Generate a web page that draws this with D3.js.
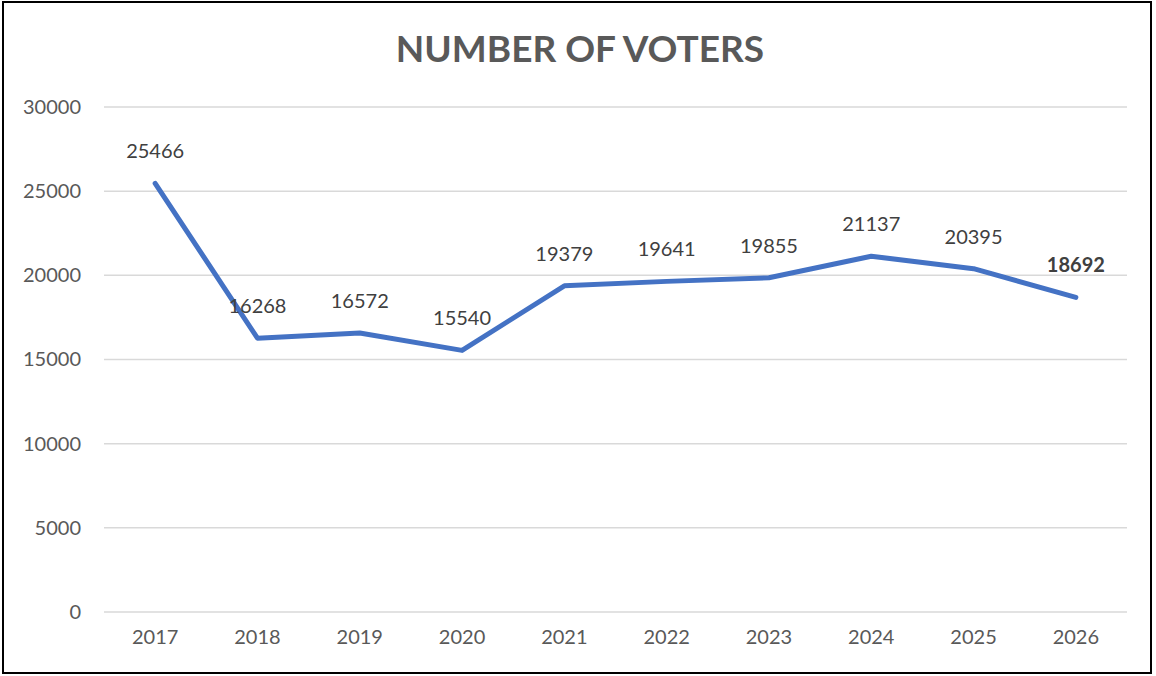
<!DOCTYPE html>
<html>
<head>
<meta charset="utf-8">
<script src="https://cdn.jsdelivr.net/npm/d3@7"></script>
<style>
  html, body { margin: 0; padding: 0; background: #fff; }
  svg { display: block; font-family: Lato, "Open Sans", sans-serif; }
</style>
</head>
<body>
<svg id="chart" width="1156" height="676"></svg>
<script>
// chart data
var years = ['2017', '2018', '2019', '2020', '2021', '2022', '2023', '2024', '2025', '2026'];
var voters = [25466, 16268, 16572, 15540, 19379, 19641, 19855, 21137, 20395, 18692];
var yTicks = [0, 5000, 10000, 15000, 20000, 25000, 30000];
var title = 'NUMBER OF VOTERS';

var width = 1156, height = 676;
var margin = { top: 107, right: 29, bottom: 64, left: 104 };
var innerW = width - margin.left - margin.right;
var innerH = height - margin.top - margin.bottom;

var svg = d3.select('#chart');

// outer border
svg.append('rect')
    .attr('x', 3).attr('y', 2)
    .attr('width', 1148).attr('height', 671)
    .attr('fill', '#fff')
    .attr('stroke', '#000')
    .attr('stroke-width', 2);

svg.append('text')
    .attr('x', 580).attr('y', 62)
    .attr('text-anchor', 'middle')
    .attr('font-size', 37)
    .attr('font-weight', 'bold')
    .attr('fill', '#595959')
    .text(title);

var g = svg.append('g')
    .attr('transform', 'translate(' + margin.left + ',' + margin.top + ')');

var x = d3.scaleBand().domain(years).range([0, innerW]);
var y = d3.scaleLinear().domain([0, 30000]).range([innerH, 0]);

// gridlines
g.append('g').selectAll('line')
    .data(yTicks)
    .enter().append('line')
    .attr('x1', 0).attr('x2', innerW)
    .attr('y1', function (d) { return y(d); })
    .attr('y2', function (d) { return y(d); })
    .attr('stroke', '#d9d9d9')
    .attr('stroke-width', 1.5);

var yAxis = g.append('g')
    .call(d3.axisLeft(y).tickValues(yTicks).tickSize(0).tickPadding(23).tickFormat(d3.format('d')));
yAxis.select('.domain').remove();
yAxis.selectAll('text')
    .attr('font-size', 20)
    .attr('fill', '#595959')
    .attr('font-family', 'Lato, sans-serif');

var xAxis = g.append('g')
    .attr('transform', 'translate(0,' + innerH + ')')
    .call(d3.axisBottom(x).tickSize(0).tickPadding(18));
xAxis.select('.domain').remove();
xAxis.selectAll('text')
    .attr('font-size', 20)
    .attr('fill', '#595959')
    .attr('font-family', 'Lato, sans-serif');

var cx = function (d, i) { return x(years[i]) + x.bandwidth() / 2; };

var line = d3.line()
    .x(cx)
    .y(function (d) { return y(d); });

g.append('path')
    .datum(voters)
    .attr('fill', 'none')
    .attr('stroke', '#4472c4')
    .attr('stroke-width', 5)
    .attr('stroke-linejoin', 'round')
    .attr('stroke-linecap', 'round')
    .attr('d', line);

g.append('g').selectAll('text')
    .data(voters)
    .enter().append('text')
    .attr('x', cx)
    .attr('y', function (d) { return y(d) - 25; })
    .attr('text-anchor', 'middle')
    .attr('font-size', 20)
    .attr('fill', '#404040')
    .attr('font-weight', function (d, i) { return i === voters.length - 1 ? 'bold' : 'normal'; })
    .text(function (d) { return d; });
</script>
</body>
</html>
